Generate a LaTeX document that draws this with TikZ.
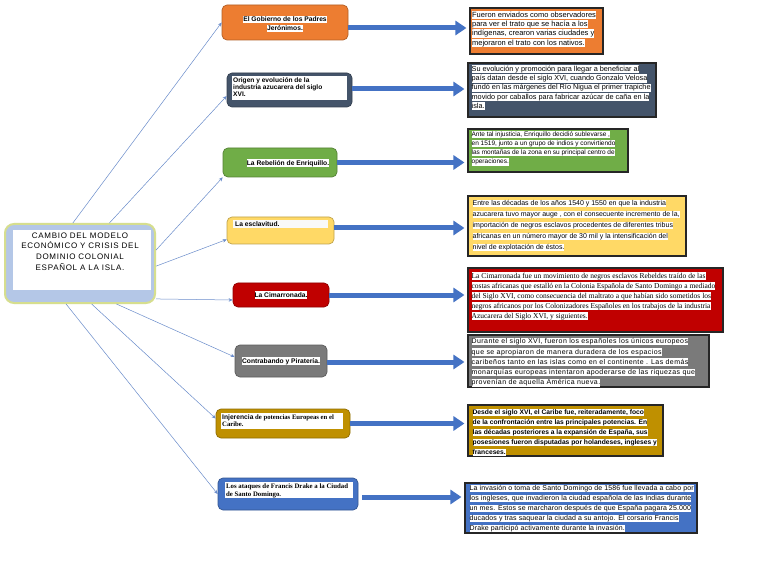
\documentclass[tikz,border=0pt]{standalone}
\usepackage{fontspec}
\setmainfont{Liberation Sans}
\newfontfamily\serifLS{Liberation Serif}
\newfontfamily\rootfont[LetterSpace=9]{Liberation Sans}
\newfontfamily\spacedS[LetterSpace=6]{Liberation Sans}
\newfontfamily\spacedT[LetterSpace=2]{Liberation Sans}
\usetikzlibrary{arrows.meta,calc}
\definecolor{corange}{HTML}{ED7D31}
\definecolor{cslate}{HTML}{44546A}
\definecolor{cgreen}{HTML}{70AD47}
\definecolor{cyellow}{HTML}{FFD966}
\definecolor{cred}{HTML}{C00000}
\definecolor{cgrey}{HTML}{7A7A7A}
\definecolor{cgold}{HTML}{BF9000}
\definecolor{cblue}{HTML}{4472C4}
\definecolor{rootblue}{HTML}{B4C7E7}
\definecolor{rootgreen}{HTML}{D6DE8E}
\definecolor{linkblue}{HTML}{6A8CCB}
\definecolor{arrowblue}{HTML}{4472C4}
\lineskiplimit=-100pt
\newcommand\hl[1]{{\setlength{\fboxsep}{0pt}\colorbox{white}{\rule[-0.25em]{0pt}{1.12em}#1}}}
\begin{document}
\begin{tikzpicture}[x=1pt,y=-1pt,
 topic/.style={rectangle, rounded corners=5pt, fill=#1, draw=#1!75!black, line width=0.7pt, inner sep=0pt},
 desc/.style={rectangle, fill=#1, draw=black!85, line width=1.1pt, inner sep=0pt},
 dtext/.style={anchor=north west, inner sep=0pt, align=left},
 ttext/.style={inner sep=0pt, align=center, font=\bfseries\fontsize{6.7}{8}\selectfont},
 conn/.style={draw=linkblue, line width=0.5pt, -{Stealth[length=4pt,width=3.5pt]}},
 fat/.style={draw=arrowblue, line width=5pt, -{Triangle[length=11pt,width=14pt]}, shorten >=3pt},
]
\fill[white] (0,0) rectangle (768,561);
\useasboundingbox (0,0) rectangle (768,561);

% root
\node[rectangle, rounded corners=9pt, fill=rootblue, draw=rootgreen, line width=2pt,
      minimum width=150pt, minimum height=79pt, inner sep=0pt] (root) at (80,263.5) {};
\node[fill=white, minimum width=138pt, minimum height=60pt, inner sep=0pt] (rootin) at (82,260) {};
\node[inner sep=0pt, anchor=north, align=center, font=\rootfont\fontsize{8}{10.6}\selectfont]
  (roott) at (80,232.5) {CAMBIO DEL MODELO\\ECONÓMICO Y CRISIS DEL\\DOMINIO COLONIAL\\ESPAÑOL A LA ISLA.};

% topics
\node[topic=corange, minimum width=126pt, minimum height=35pt] (t1) at (285,22.5) {};
\node[ttext, font=\bfseries\fontsize{6.7}{9}\selectfont] (t1t) at (285,24) {\hl{El Gobierno de los Padres}\\\hl{Jerónimos.}};

\node[topic=cslate, minimum width=125pt, minimum height=34pt] (t2) at (289.5,90) {};
\node[fill=white, minimum width=115pt, minimum height=24pt, inner sep=0pt] (t2in) at (289.5,88) {};
\node[ttext, anchor=north west, align=left, font=\bfseries\fontsize{6.6}{7.2}\selectfont] (t2t) at (233,77.5)
  {Origen y evolución de la\\industria azucarera del siglo\\XVI.};

\node[topic=cgreen, minimum width=114pt, minimum height=29pt] (t3) at (280,162.5) {};
\node[ttext] (t3t) at (288,163) {\hl{La Rebelión de Enriquillo.}};

\node[topic=cyellow, minimum width=107pt, minimum height=27pt] (t4) at (280.5,230.5) {};
\node[fill=white!95!gray, minimum width=95pt, minimum height=8pt, inner sep=0pt] (t4bar) at (280.5,224.5) {};
\node[ttext, anchor=west] (t4t) at (235,224.5) {La esclavitud.};

\node[topic=cred, minimum width=96pt, minimum height=24pt] (t5) at (281,295) {};
\node[ttext] (t5t) at (281,295) {\hl{La Cimarronada.}};

\node[topic=cgrey, minimum width=92pt, minimum height=32pt] (t6) at (281,361) {};
\node[ttext] (t6t) at (281,361) {\hl{Contrabando y Piratería.}};

\node[topic=cgold, minimum width=134pt, minimum height=29pt] (t7) at (283,423.5) {};
\node[fill=white, minimum width=122pt, minimum height=16pt, inner sep=0pt] (t7in) at (282,421) {};
\node[ttext, anchor=north west, align=left, font=\bfseries\fontsize{6.7}{7.2}\selectfont] (t7t) at (222,414)
  {Injerencia{\serifLS\ de potencias Europeas en el}\\{\serifLS Caribe.}};

\node[topic=cblue, minimum width=140pt, minimum height=32pt] (t8) at (288,494) {};
\node[fill=white, minimum width=128pt, minimum height=16pt, inner sep=0pt] (t8in) at (289,490) {};
\node[ttext, anchor=north west, align=left, font=\serifLS\bfseries\fontsize{6.8}{7.6}\selectfont] (t8t) at (226,483.5)
  {Los ataques de Francis Drake a la Ciudad\\de Santo Domingo.};

% descriptions
\node[desc=corange, minimum width=133pt, minimum height=46pt] (d1) at (536.5,31) {};
\node[dtext, font=\fontsize{7.5}{9.4}\selectfont] (d1t) at ([shift={(2.5,3)}]d1.north west)
  {\hl{Fueron enviados como observadores}\\\hl{para ver el trato que se hacía a los}\\\hl{indígenas, crearon varias ciudades y}\\\hl{mejoraron el trato con los nativos.}};

\node[desc=cslate, minimum width=188pt, minimum height=54pt] (d2) at (562,90) {};
\node[dtext, font=\fontsize{7.3}{9.2}\selectfont] (d2t) at ([shift={(4,2.5)}]d2.north west)
  {\hl{Su evolución y promoción para llegar a beneficiar al}\\\hl{país datan desde el siglo XVI, cuando Gonzalo Velosa}\\\hl{fundó en las márgenes del Río Nigua el primer trapiche}\\\hl{movido por caballos para fabricar azúcar de caña en la}\\\hl{isla.}};

\node[desc=cgreen, minimum width=160pt, minimum height=43pt] (d3) at (548,150.5) {};
\node[dtext, font=\fontsize{6.5}{9.2}\selectfont] (d3t) at ([shift={(4,2)}]d3.north west)
  {\hl{Ante tal injusticia, Enriquillo decidió sublevarse ,}\\\hl{en 1519, junto a un grupo de indios y convirtiendo}\\\hl{las montañas de la zona en su principal centro de}\\\hl{operaciones.}};

\node[desc=cyellow, minimum width=218pt, minimum height=60pt] (d4) at (577,226) {};
\node[dtext, font=\fontsize{7}{11}\selectfont] (d4t) at ([shift={(5,4)}]d4.north west)
  {\hl{Entre las décadas de los años 1540 y 1550 en que la industria}\\\hl{azucarera tuvo mayor auge , con el consecuente incremento de la,}\\\hl{importación de negros esclavos procedentes de diferentes tribus}\\\hl{africanas en un número mayor de 30 mil y la intensificación del}\\\hl{nivel de explotación de éstos.}};

\node[desc=cred, minimum width=255pt, minimum height=64pt] (d5) at (595.5,300) {};
\node[dtext, font=\serifLS\fontsize{7.5}{10}\selectfont] (d5t) at ([shift={(4,4)}]d5.north west)
  {\hl{La Cimarronada fue un movimiento de negros esclavos Rebeldes traído de las}\\\hl{costas africanas que estalló en la Colonia Española de Santo Domingo a mediado}\\\hl{del Siglo XVI, como consecuencia del maltrato a que habían sido sometidos los}\\\hl{negros africanos por los Colonizadores Españoles en los trabajos de la industria}\\\hl{Azucarera del Siglo XVI, y siguientes.}};

\node[desc=cgrey, minimum width=241pt, minimum height=52pt] (d6) at (588.5,361) {};
\node[dtext, font=\spacedS\fontsize{7}{10.3}\selectfont] (d6t) at ([shift={(4,3)}]d6.north west)
  {\hl{Durante el siglo XVI, fueron los españoles los únicos europeos}\\\hl{que se apropiaron de manera duradera de los espacios}\\\hl{caribeños tanto en las islas como en el continente . Las demás}\\\hl{monarquías europeas intentaron apoderarse de las riquezas que}\\\hl{provenían de aquella América nueva.}};

\node[desc=cgold, minimum width=195pt, minimum height=51pt] (d7) at (565.5,430.5) {};
\node[dtext, font=\bfseries\fontsize{6.7}{10}\selectfont] (d7t) at ([shift={(5,4)}]d7.north west)
  {\hl{Desde el siglo XVI, el Caribe fue, reiteradamente, foco}\\\hl{de la confrontación entre las principales potencias. En}\\\hl{las décadas posteriores a la expansión de España, sus}\\\hl{posesiones fueron disputadas por holandeses, ingleses y}\\\hl{franceses.}};

\node[desc=cblue, minimum width=232pt, minimum height=50pt] (d8) at (581,508) {};
\node[dtext, font=\spacedT\fontsize{7}{10}\selectfont] (d8t) at ([shift={(5,2)}]d8.north west)
  {\hl{La invasión o toma de Santo Domingo de 1586 fue llevada a cabo por}\\\hl{los ingleses, que invadieron la ciudad española de las Indias durante}\\\hl{un mes. Estos se marcharon después de que España pagara 25.000}\\\hl{ducados y tras saquear la ciudad a su antojo. El corsario Francis}\\\hl{Drake participó activamente durante la invasión.}};

% thick arrows
\draw[fat] ([yshift=-5.5pt]t1.east) -- ([yshift=-5.5pt]t1.east -| d1.west);
\draw[fat] ([yshift=1pt]t2.east) -- ([yshift=1pt]t2.east -| d2.west);
\draw[fat] (t3.east) -- (t3.east -| d3.west);
\draw[fat] ([yshift=2.5pt]t4.east) -- ([yshift=2.5pt]t4.east -| d4.west);
\draw[fat] (t5.east) -- (t5.east -| d5.west);
\draw[fat] ([yshift=-1pt]t6.east) -- ([yshift=-1pt]t6.east -| d6.west);
\draw[fat] (t7.east) -- (t7.east -| d7.west);
\draw[fat] ([xshift=4pt,yshift=-3pt]t8.east) -- ([yshift=-3pt]t8.east -| d8.west);

% thin connectors
\draw[conn] (root.100) -- (t1.west);
\draw[conn] (root.54) -- ([yshift=-6pt]t2.west);
\draw[conn] (root.10) -- (t3.south west);
\draw[conn] (root.-2) -- ([yshift=-9pt]t4.west);
\draw[conn] (root.-25) -- ([yshift=-5pt]t5.west);
\draw[conn] (root.-48) -- ([yshift=4pt]t6.west);
\draw[conn] (root.-74) -- ([yshift=5pt]t7.west);
\draw[conn] (root.-109) -- (t8.west);
\end{tikzpicture}
\end{document}
